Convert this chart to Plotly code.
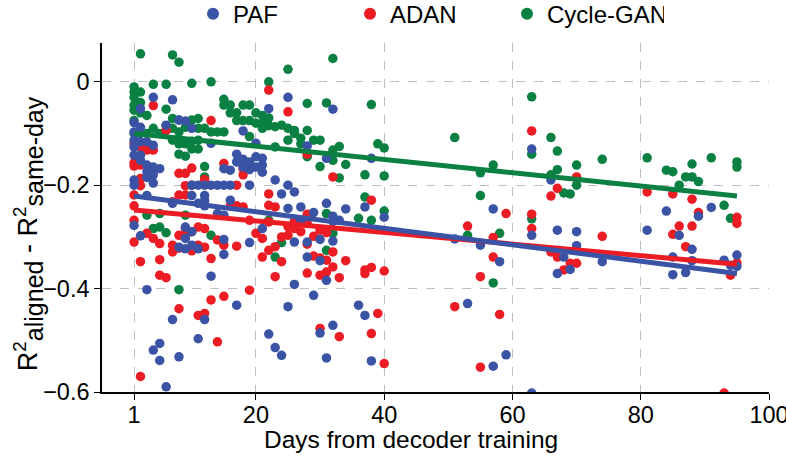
import plotly.graph_objects as go

# ---- data (day, R2 difference) ----
paf_points = [
    (1,-0.079),(1,-0.097),(1,-0.113),(1,-0.126),(1,-0.142),(1,-0.19),(1,-0.2),(1,-0.278),
    (2,-0.052),(2,-0.088),(2,-0.116),(2,-0.142),(2,-0.152),(2,-0.298),
    (3,-0.116),(3,-0.161),(3,-0.174),(3,-0.185),(3,-0.22),(3,-0.402),
    (4,-0.03),(4,-0.123),(4,-0.165),(4,-0.18),(4,-0.196),(4,-0.519),
    (5,-0.168),(5,-0.506),(5,-0.539),
    (6,-0.084),(6,-0.59),
    (7,-0.035),(7,-0.235),(7,-0.46),
    (8,-0.074),(8,-0.32),(8,-0.532),
    (9,-0.076),(9,-0.281),(9,-0.303),(9,-0.323),
    (10,-0.09),(10,-0.29),(10,-0.316),(10,-0.2),(10,-0.22),
    (11,-0.235),(11,-0.323),(11,-0.497),(11,-0.2),
    (12,-0.22),(12,-0.23),(12,-0.24),(12,-0.46),(12,-0.2),
    (13,-0.119),(13,-0.376),(13,-0.2),
    (14,-0.255),(14,-0.2),
    (15,-0.168),(15,-0.305),(15,-0.334),(15,-0.258),(15,-0.2),
    (16,-0.171),(16,-0.229),(16,-0.2),
    (17,-0.14),(17,-0.432),(17,-0.155),
    (18,-0.095),(18,-0.15),(18,-0.165),
    (19,-0.311),(19,-0.2),(19,-0.155),(19,-0.17),
    (20,-0.119),(20,-0.145),(20,-0.165),
    (21,-0.148),(21,-0.161),(21,-0.175),(21,-0.284),
    (22,-0.052),(22,-0.488),
    (23,-0.19),(23,-0.514),
    (24,-0.217),(24,-0.529),
    (25,-0.03),(25,-0.2),(25,-0.245),(25,-0.435),
    (26,-0.213),(26,-0.392),(26,-0.31),
    (27,-0.242),(27,-0.268),
    (28,-0.124),(28,-0.31),(28,-0.339),
    (29,-0.253),(29,-0.413),
    (30,-0.305),(30,-0.346),(30,-0.486),
    (31,-0.148),(31,-0.235),(31,-0.384),(31,-0.534),
    (32,-0.053),(32,-0.26),(32,-0.308),(32,-0.471),(32,-0.27),
    (33,-0.268),(34,-0.246),(36,-0.432),
    (37,-0.242),(37,-0.452),
    (38,-0.148),(38,-0.54),
    (40,-0.262),
    (51,-0.304),(53,-0.429),(55,-0.316),(57,-0.246),(57,-0.55),(58,-0.348),(59,-0.528),
    (63,-0.13),(63,-0.297),(63,-0.602),
    (66,-0.19),(67,-0.287),(67,-0.371),(68,-0.339),(69,-0.363),(70,-0.29),(70,-0.317),
    (74,-0.348),(81,-0.287),(84,-0.25),(85,-0.339),(85,-0.373),(86,-0.297),(87,-0.369),
    (88,-0.324),(88,-0.346),(89,-0.26),(91,-0.243),(93,-0.345),(94,-0.355),(95,-0.335),(95,-0.357),
]

adan_points = [
    (1,-0.12),(1,-0.157),(1,-0.163),(1,-0.219),(1,-0.24),(1,-0.268),(1,-0.31),
    (2,-0.126),(2,-0.161),(2,-0.187),(2,-0.201),(2,-0.348),(2,-0.57),
    (3,-0.132),(3,-0.293),
    (4,-0.046),(4,-0.132),(4,-0.303),
    (5,-0.313),(5,-0.344),(5,-0.374),
    (6,-0.094),(6,-0.379),
    (7,-0.232),(7,-0.316),(7,-0.329),
    (8,-0.177),(8,-0.219),(8,-0.297),(8,-0.322),(8,-0.439),
    (9,-0.177),(9,-0.201),(9,-0.219),(9,-0.284),(9,-0.297),
    (10,-0.167),(10,-0.2),(10,-0.29),(10,-0.327),
    (11,-0.281),(11,-0.316),(11,-0.452),
    (12,-0.189),(12,-0.284),(12,-0.32),(12,-0.448),
    (13,-0.075),(13,-0.342),(13,-0.422),
    (14,-0.306),(14,-0.503),
    (15,-0.158),(15,-0.316),(15,-0.415),
    (16,-0.24),
    (17,-0.24),(17,-0.318),(17,-0.2),
    (18,-0.168),(18,-0.18),(18,-0.242),
    (19,-0.268),(19,-0.403),
    (20,-0.293),
    (21,-0.303),(21,-0.339),
    (22,-0.016),(22,-0.217),(22,-0.239),(22,-0.271),(22,-0.326),
    (23,-0.242),(23,-0.319),(23,-0.377),
    (24,-0.3),(24,-0.348),
    (25,-0.058),(25,-0.28),(25,-0.297),
    (26,-0.284),(26,-0.27),
    (27,-0.271),(27,-0.29),
    (28,-0.14),(28,-0.256),(28,-0.274),(28,-0.314),(28,-0.37),
    (29,-0.299),(29,-0.337),
    (30,-0.341),(30,-0.374),(30,-0.477),(30,-0.287),
    (31,-0.292),(31,-0.345),(31,-0.368),
    (32,-0.184),(32,-0.329),(32,-0.358),
    (33,-0.379),(33,-0.493),
    (34,-0.346),
    (37,-0.364),(37,-0.371),
    (38,-0.229),(38,-0.359),(38,-0.487),
    (39,-0.448),
    (40,-0.366),(40,-0.545),
    (51,-0.435),(53,-0.279),(55,-0.377),(55,-0.552),(57,-0.301),(57,-0.339),(58,-0.45),(59,-0.255),
    (63,-0.095),(63,-0.256),(63,-0.284),
    (66,-0.221),(66,-0.329),(67,-0.206),(67,-0.339),(68,-0.364),(69,-0.351),(70,-0.184),(70,-0.351),
    (74,-0.299),(81,-0.213),(85,-0.217),(85,-0.295),(86,-0.279),(87,-0.319),(88,-0.227),(88,-0.279),(89,-0.253),
    (93,-0.602),(94,-0.374),(95,-0.262),(95,-0.274),(95,-0.35),
]

cyclegan_points = [
    (1,-0.01),(1,-0.02),(1,-0.03),(1,-0.045),(1,-0.055),(1,-0.075),(1,-0.1),
    (2,0.054),(2,-0.02),(2,-0.04),(2,-0.06),(2,-0.1),
    (3,-0.065),(3,-0.1),(3,-0.258),
    (4,-0.005),(4,-0.09),(4,-0.284),
    (5,-0.1),(5,-0.255),(5,-0.281),
    (6,-0.005),(6,-0.053),(6,-0.085),(6,-0.292),
    (7,0.052),(7,-0.071),(7,-0.09),(7,-0.113),
    (8,0.038),(8,-0.074),(8,-0.097),(8,-0.12),(8,-0.14),(8,-0.402),
    (9,-0.088),(9,-0.144),(9,-0.258),(9,-0.12),
    (10,-0.003),(10,-0.074),(10,-0.115),(10,-0.13),
    (11,-0.071),(11,-0.09),(11,-0.113),(11,-0.13),
    (12,-0.09),(12,-0.164),(12,-0.184),
    (13,0.0),(13,-0.097),(13,-0.297),
    (14,-0.097),
    (15,-0.034),(15,-0.045),(15,-0.097),
    (16,-0.045),(16,-0.06),
    (17,-0.06),(17,-0.075),
    (18,-0.045),(18,-0.075),
    (19,-0.045),(19,-0.075),(19,-0.106),
    (20,-0.06),(20,-0.08),
    (21,-0.065),(21,-0.08),(21,-0.09),
    (22,0.0),(22,-0.07),(22,-0.085),(22,-0.268),
    (23,-0.087),(23,-0.126),(23,-0.339),
    (24,-0.084),(24,-0.311),
    (25,0.024),(25,-0.09),(25,-0.113),
    (26,-0.1),(26,-0.094),
    (27,-0.109),(27,-0.12),
    (28,-0.042),(28,-0.094),(28,-0.145),
    (29,-0.113),
    (30,-0.113),(30,-0.164),
    (31,-0.041),(31,-0.255),(31,-0.326),
    (32,0.045),(32,-0.132),(32,-0.152),(32,-0.293),
    (33,-0.125),(33,-0.186),
    (34,-0.16),(36,-0.264),
    (37,-0.18),(37,-0.223),
    (38,-0.044),(38,-0.268),
    (39,-0.12),
    (40,-0.128),(40,-0.182),(40,-0.25),
    (51,-0.108),(53,-0.297),(55,-0.176),(55,-0.22),(57,-0.161),(57,-0.389),(58,-0.293),
    (63,-0.029),(63,-0.14),(63,-0.265),
    (66,-0.108),(66,-0.18),(67,-0.134),(67,-0.17),(68,-0.215),(69,-0.217),(70,-0.161),(70,-0.2),
    (74,-0.15),(81,-0.147),(84,-0.171),(85,-0.174),(86,-0.2),(87,-0.184),(88,-0.159),(88,-0.184),(89,-0.193),
    (91,-0.147),(93,-0.239),(94,-0.264),(95,-0.155),(95,-0.165),
]

# linear fit end points
fit_days = [1, 95]
paf_fit = [-0.221, -0.371]
adan_fit = [-0.248, -0.353]
cyclegan_fit = [-0.100, -0.221]

x_ticks = [1, 20, 40, 60, 80, 100]
y_ticks = [-0.6, -0.4, -0.2, 0]

BLUE = "#3a53a4"
RED = "#ec1c24"
GREEN = "#0b8043"
FONT = "Liberation Sans, Arial, sans-serif"

def unzip(pts):
    return [p[0] for p in pts], [p[1] for p in pts]

fig = go.Figure()
series = [("Cycle-GAN", cyclegan_points, GREEN),
          ("ADAN", adan_points, RED),
          ("PAF", paf_points, BLUE)]
for name, pts, col in series:
    xs, ys = unzip(pts)
    fig.add_trace(go.Scatter(x=xs, y=ys, mode="markers", name=name,
                             marker=dict(color=col, size=9.5, line=dict(width=0))))

for fit, col in [(cyclegan_fit, GREEN), (adan_fit, RED), (paf_fit, BLUE)]:
    fig.add_trace(go.Scatter(x=fit_days, y=fit, mode="lines", showlegend=False,
                             line=dict(color=col, width=5)))

ytitle = ("R<sup>2</sup><sub><span style='font-size:25px'>aligned</span></sub> - "
          "R<sup>2</sup><sub><span style='font-size:25px'>same-day</span></sub>")

fig.update_layout(
    width=786, height=461,
    margin=dict(l=102, r=17, t=43, b=69, autoexpand=False),
    paper_bgcolor="white", plot_bgcolor="white",
    font=dict(family=FONT, size=23.5, color="black"),
    showlegend=True,
    legend=dict(orientation="h", x=0.4895, xanchor="center", y=1.083, yanchor="middle",
                traceorder="reversed", entrywidth=112, entrywidthmode="pixels",
                font=dict(size=24), itemsizing="constant"),
    xaxis=dict(range=[-4, 100], tickmode="array", tickvals=x_ticks,
               ticktext=[str(t) for t in x_ticks], ticklabeloverflow="allow",
               ticklabelstandoff=-5,
               showgrid=True, gridcolor="#c0c0c0", griddash="dash", gridwidth=1,
               zeroline=False, showline=True, linecolor="black", linewidth=1.5,
               ticks="outside", ticklen=6, tickcolor="black", automargin=False),
    yaxis=dict(range=[-0.6, 0.075], tickmode="array", tickvals=y_ticks,
               showgrid=True, gridcolor="#c0c0c0", griddash="dash", gridwidth=1,
               zeroline=False, showline=True, linecolor="black", linewidth=1.5,
               ticks="outside", ticklen=6, tickcolor="black", automargin=False),
    annotations=[
        dict(text="Days from decoder training", xref="paper", yref="paper",
             x=0.463, y=-0.1375, xanchor="center", yanchor="middle",
             showarrow=False, font=dict(size=24.5)),
        dict(text=ytitle, xref="paper", yref="paper", textangle=-90,
             x=-0.111, y=0.455, xanchor="center", yanchor="middle",
             showarrow=False, font=dict(size=27)),
    ],
)

fig.write_html("out.html", config={"displayModeBar": False},
               post_script="document.body.style.margin='0';")
